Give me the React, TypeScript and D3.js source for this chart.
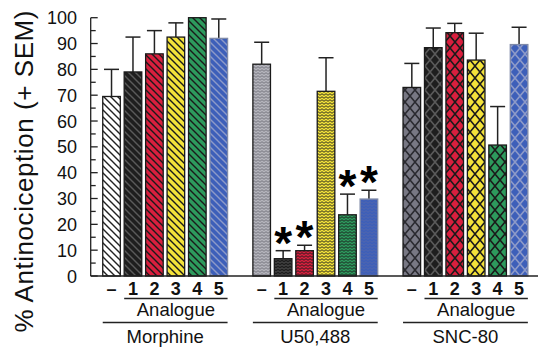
import * as d3 from "d3";

// values (% antinociception, mean and SEM)
const groups = ["Morphine", "U50,488", "SNC-80"];
const treatments = ["–", "1", "2", "3", "4", "5"];
const morphineMean = [69.5, 79, 86, 92.5, 100, 92];
const morphineSem = [10.5, 13.5, 9, 5.5, 0, 7.5];
const u50Mean = [82, 6.7, 9.8, 71.5, 23.7, 29.8];
const u50Sem = [8.5, 3.1, 2.1, 13, 8, 3.4];
const sncMean = [73, 88.4, 94.2, 83.6, 50.7, 89.6];
const sncSem = [9.3, 7.6, 3.6, 10.4, 14.9, 6.7];
const u50Significant = [false, true, true, false, true, true];
const yTicks = [0, 10, 20, 30, 40, 50, 60, 70, 80, 90, 100];

const means = [morphineMean, u50Mean, sncMean];
const sems = [morphineSem, u50Sem, sncSem];
const signif = [[false, false, false, false, false, false], u50Significant, [false, false, false, false, false, false]];

const W = 540;
const H = 347;
const FONT = "Arial, 'Liberation Sans', Helvetica, sans-serif";

// bar colours (first colour of each group differs)
const firstColors = ["#ffffff", "#b4b4bc", "#787884"];
const analogueColors = ["#1e1e1e", "#d91f3e", "#f3e23a", "#2d9a5d", "#3d5fb9"];
const lineColors = ["#1a1a1a", "#5a5a5a", "#1a1a1a", "#1a1a1a", "#1a1a1a", "#8d9ac8"];
const patternKinds = ["hatch", "zig", "cross"];

const slots: string[] = [];
groups.forEach((g, gi) => {
  if (gi > 0) slots.push(`gap${gi}`);
  treatments.forEach((t, ti) => slots.push(`${gi}-${ti}`));
});

const x = d3.scaleBand<string>().domain(slots).range([100.8, 529.8]).paddingInner(0.18).paddingOuter(0.09);
const y = d3.scaleLinear().domain([0, 100]).range([276, 17.7]);

const fillColor = (ti: number, gi: number) => (ti === 0 ? firstColors[gi] : analogueColors[ti - 1]);

function Patterns() {
  const defs: JSX.Element[] = [];
  groups.forEach((g, gi) => {
    treatments.forEach((t, ti) => {
      const id = `p${gi}-${ti}`;
      const bg = fillColor(ti, gi);
      let fg = lineColors[ti];
      if (gi === 1 && ti === 0) fg = "#6e6e78";
      if (gi === 1 && ti === 5) fg = "#5468aa";
      if (gi === 2 && ti === 0) fg = "#2a2a30";
      if (gi === 0 && ti === 0) fg = "#222";
      const kind = patternKinds[gi];
      if (kind === "hatch") {
        defs.push(
          <pattern key={id} id={id} patternUnits="userSpaceOnUse" width={7} height={7}>
            <rect width={7} height={7} fill={bg} />
            <path d="M-1,-1 L8,8 M-1,6 L1,8 M6,-1 L8,1" stroke={fg} strokeWidth={1.4} />
          </pattern>
        );
      } else if (kind === "zig") {
        defs.push(
          <pattern key={id} id={id} patternUnits="userSpaceOnUse" width={4} height={3}>
            <rect width={4} height={3} fill={bg} />
            <path d="M0,2.3 L2,0.7 L4,2.3" fill="none" stroke={fg} strokeWidth={0.9} />
          </pattern>
        );
      } else {
        defs.push(
          <pattern key={id} id={id} patternUnits="userSpaceOnUse" width={10} height={12}>
            <rect width={10} height={12} fill={bg} />
            <path d="M0,0 L10,12 M10,0 L0,12" stroke={fg} strokeWidth={1.6} />
          </pattern>
        );
      }
    });
  });
  return <defs>{defs}</defs>;
}

export default function App() {
  const bw = x.bandwidth();
  const minorTicks = d3.range(5, 100, 10);
  return (
    <svg width={W} height={H} style={{ position: "absolute", left: 0, top: 0, background: "#fff" }} fontFamily={FONT}>
      <Patterns />
      {/* y axis title */}
      <text
        transform={`translate(33,${(8 + 335) / 2}) rotate(-90)`}
        textAnchor="middle"
        fontSize={26}
        textLength={322}
        lengthAdjust="spacing"
        fill="#111"
      >
        % Antinociception (+ SEM)
      </text>
      {/* y axis */}
      <line x1={90.7} x2={90.7} y1={y(100)} y2={y(0)} stroke="#222" strokeWidth={1.3} />
      {yTicks.map((t) => (
        <g key={t}>
          <line x1={90.7} x2={97.7} y1={y(t)} y2={y(t)} stroke="#222" strokeWidth={1.3} />
          <text x={77} y={y(t) + 6.5} textAnchor="end" fontSize={18} fill="#111">
            {t}
          </text>
        </g>
      ))}
      {minorTicks.map((t) => (
        <line key={t} x1={90.7} x2={95.7} y1={y(t)} y2={y(t)} stroke="#222" strokeWidth={1.3} />
      ))}
      {/* bars */}
      {groups.map((g, gi) =>
        treatments.map((t, ti) => {
          const key = `${gi}-${ti}`;
          const x0 = x(key)!;
          const m = means[gi][ti];
          const s = sems[gi][ti];
          const cx = x0 + bw / 2;
          return (
            <g key={key}>
              {s > 0 && (
                <g stroke="#222" strokeWidth={1.5}>
                  <line x1={cx} x2={cx} y1={y(m)} y2={y(m + s)} />
                  <line x1={cx - 7.5} x2={cx + 7.5} y1={y(m + s)} y2={y(m + s)} />
                </g>
              )}
              <rect
                x={x0}
                y={y(m)}
                width={bw}
                height={y(0) - y(m)}
                fill={`url(#p${key})`}
                stroke={ti === 5 ? "#7f8aa8" : "#1a1a1a"}
                strokeWidth={1.3}
              />
              {signif[gi][ti] && (
                <text x={cx} y={y(m + s) + 8} textAnchor="middle" fontSize={46} fontWeight="bold" fill="#000">
                  *
                </text>
              )}
            </g>
          );
        })
      )}
      {/* x axis */}
      <line x1={90.7} x2={538} y1={y(0)} y2={y(0)} stroke="#222" strokeWidth={1.4} />
      {/* category labels */}
      {groups.map((g, gi) => {
        const left0 = x(`${gi}-0`)!;
        const left1 = x(`${gi}-1`)!;
        const right5 = x(`${gi}-5`)! + bw;
        return (
          <g key={g}>
            {treatments.map((t, ti) => (
              <text
                key={t}
                x={x(`${gi}-${ti}`)! + bw / 2}
                y={295}
                textAnchor="middle"
                fontSize={18}
                fontWeight="bold"
                fill="#111"
              >
                {t}
              </text>
            ))}
            <line x1={left1} x2={right5} y1={298.5} y2={298.5} stroke="#222" strokeWidth={1.3} />
            <text x={(left1 + right5) / 2} y={316} textAnchor="middle" fontSize={18.5} fill="#111">
              Analogue
            </text>
            <line x1={left0} x2={right5} y1={322.5} y2={322.5} stroke="#222" strokeWidth={1.3} />
            <text x={(left0 + right5) / 2} y={343} textAnchor="middle" fontSize={18.5} fill="#111">
              {g}
            </text>
          </g>
        );
      })}
    </svg>
  );
}
